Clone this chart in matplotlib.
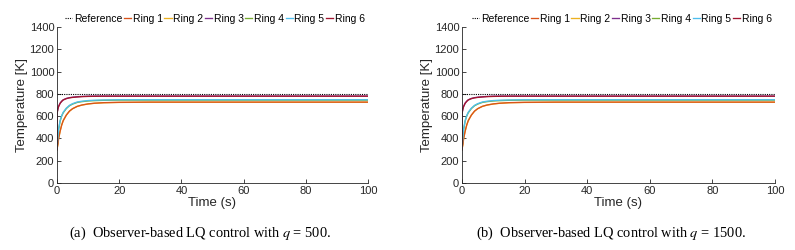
import matplotlib

matplotlib.use("Agg")
import matplotlib.pyplot as plt

plt.rcParams["font.family"] = ["Liberation Sans", "DejaVu Sans"]
plt.rcParams["mathtext.fontset"] = "stix"

# time samples (s) and temperatures (K)
time = [0, 0.05, 0.3, 0.5, 1, 1.5, 2, 3, 4, 5, 6.5, 8, 10, 12, 15, 20, 30, 50, 100]
reference = [800] * len(time)
ring1 = [300, 310, 350, 395, 465, 520, 560, 610, 645, 667, 688, 700, 710, 716, 721, 724, 726, 726, 726]
ring2 = [300, 309, 349, 394, 464, 519, 559, 609, 644, 666, 687, 699, 709, 715, 720, 723, 725, 725, 725]
ring3 = [300, 632, 667, 687, 717, 734, 747, 759, 766, 770, 774, 777, 779, 780, 780, 780, 780, 780, 780]
ring4 = [300, 318, 415, 475, 555, 600, 630, 668, 693, 708, 723, 730, 736, 739, 742, 744, 744, 744, 744]
ring5 = [300, 320, 420, 480, 560, 605, 635, 672, 697, 712, 727, 734, 740, 743, 745, 747, 747, 747, 747]
ring6 = [300, 630, 665, 685, 715, 732, 745, 757, 764, 768, 772, 775, 777, 778, 779, 779, 779, 779, 779]

rings = [ring1, ring2, ring3, ring4, ring5, ring6]
ring_names = ["Ring 1", "Ring 2", "Ring 3", "Ring 4", "Ring 5", "Ring 6"]
ring_colors = ["#D95319", "#EDB120", "#7E2F8E", "#77AC30", "#4DBEEE", "#A2142F"]
# rings 2/3/4 sit underneath 1/6/5 in the picture
ring_z = [2.3, 2.0, 2.0, 2.0, 2.3, 2.3]

x_ticks = [0, 20, 40, 60, 80, 100]
y_ticks = [0, 200, 400, 600, 800, 1000, 1200, 1400]
captions = ["(a)  Observer-based LQ control with $q$ = 500.",
            "(b)  Observer-based LQ control with $q$ = 1500."]

W, H = 795, 250
fig = plt.figure(figsize=(W / 100, H / 100), dpi=100)

panels = [(57, 368), (462, 775)]
caption_x = [200, 611]
axis_col = "#262626"
for (x0, x1), cx, cap in zip(panels, caption_x, captions):
    ax = fig.add_axes([x0 / W, 1 - 183 / H, (x1 - x0) / W, (183 - 27) / H])
    ax.plot(time, reference, ls=(0, (1, 1)), color="black", lw=0.8, label="Reference")
    for vals, name, col, z in zip(rings, ring_names, ring_colors, ring_z):
        ax.plot(time, vals, color=col, lw=0.95, label=name, zorder=z)
    ax.set_xlim(0, 100)
    ax.set_ylim(0, 1400)
    ax.set_xticks(x_ticks)
    ax.set_yticks(y_ticks)
    ax.spines[["top", "right"]].set_visible(False)
    for s in ("left", "bottom"):
        ax.spines[s].set_color(axis_col)
        ax.spines[s].set_linewidth(0.6)
    ax.tick_params(direction="in", length=3, width=0.6, colors=axis_col,
                   labelsize=8, pad=2)
    ax.set_xlabel("Time (s)", fontsize=9.5, color=axis_col, labelpad=1)
    ax.set_ylabel("Temperature [K]", fontsize=9.5, color=axis_col, labelpad=1)
    ax.legend(loc="lower right", bbox_to_anchor=(1.0, 1.0), ncol=7, frameon=False,
              fontsize=7.5, handlelength=0.7, handletextpad=0.15, columnspacing=0.15,
              borderpad=0, borderaxespad=0.3)
    fig.text(cx / W, 1 - 233 / H, cap, ha="center", va="center",
             fontsize=10.4, family=["Liberation Serif", "DejaVu Serif"])

fig.savefig("out.png", dpi=100)
